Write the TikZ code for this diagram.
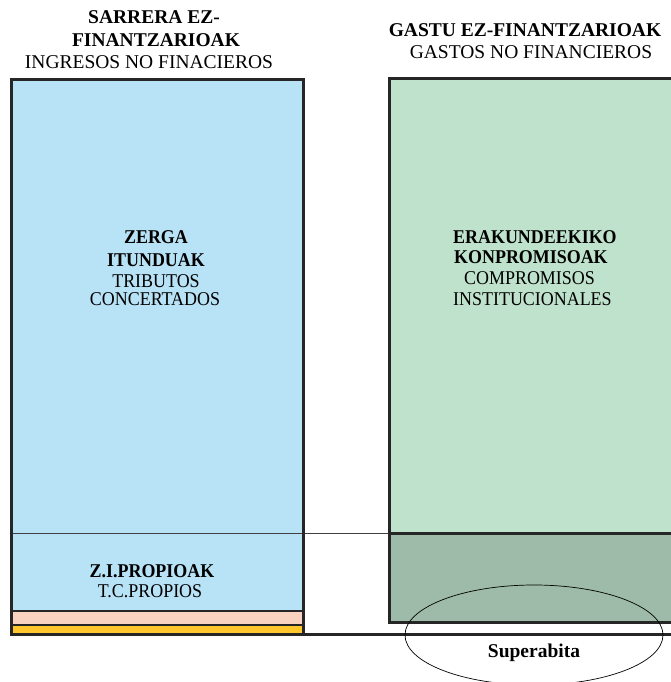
\documentclass[tikz,border=0pt]{standalone}
\usepackage{fontspec}
\setmainfont{Liberation Serif}
\newfontfamily\boxfont[FakeStretch=0.92]{Liberation Serif}
\usetikzlibrary{positioning}
\definecolor{inblue}{HTML}{B8E2F6}
\definecolor{gslight}{HTML}{BFE2CC}
\definecolor{gsdark}{HTML}{9DBBA8}
\definecolor{inpink}{HTML}{FAD3C0}
\definecolor{inyellow}{HTML}{FFC72C}
\tikzset{
  frame/.style={draw=black!85, line width=3pt},
  bd/.style={anchor=base, inner sep=0pt, font=\fontsize{19.5}{22}\selectfont\bfseries},
  rg/.style={anchor=base, inner sep=0pt, font=\fontsize{19.5}{22}\selectfont},
  bdin/.style={anchor=base, inner sep=0pt, font=\boxfont\fontsize{19.5}{22}\selectfont\bfseries},
  rgin/.style={anchor=base, inner sep=0pt, font=\boxfont\fontsize{19.5}{22}\selectfont},
}
\begin{document}
\begin{tikzpicture}[x=1pt, y=-1pt]
    \useasboundingbox (0,0) rectangle (670,682);
    % ingresos
    \fill[inblue] (11,80) rectangle (303,611);
    \fill[inpink] (11,611) rectangle (303,625);
    \fill[inyellow] (11,625) rectangle (303,634);
    \draw[black!75, line width=0.8pt] (11,533) -- (389,533);
    \draw[frame, line width=2.4pt] (11,611) -- (303,611) (11,625) -- (303,625);
    \draw[frame] (11,80) rectangle (303,634);
    % gastos
    \fill[gslight] (389,79) rectangle (675,533);
    \fill[gsdark] (389,533) rectangle (675,622);
    \draw[frame] (389,533) -- (675,533);
    \draw[frame] (675,79) -- (389,79) -- (389,622) -- (675,622);
    \draw[frame] (11,634) -- (675,634);
    % superavit
    \draw[line width=0.7pt] (534,635) ellipse [x radius=129, y radius=50];
    % titulos
    \node[bd] (inT1) at (154,24) {SARRERA EZ-};
    \node[bd] (inT2) at (156,47) {FINANTZARIOAK};
    \node[rg] (inT3) at (149,69) {INGRESOS NO FINACIEROS};
    \node[bd] (gsT1) at (525,37) {GASTU EZ-FINANTZARIOAK};
    \node[rg] (gsT2) at (531,59) {GASTOS NO FINANCIEROS};
    % textos
    \node[bdin] (tc1) at (156,243) {ZERGA};
    \node[bdin] (tc2) at (156,266) {ITUNDUAK};
    \node[rgin] (tc3) at (156,287) {TRIBUTOS};
    \node[rgin] (tc4) at (155,305) {CONCERTADOS};
    \node[bdin] (tp1) at (152,577) {Z.I.PROPIOAK};
    \node[rgin] (tp2) at (150,597) {T.C.PROPIOS};
    \node[bdin, anchor=base west] (ci1) at (453,243) {ERAKUNDEEKIKO};
    \node[bdin, anchor=base west] (ci2) at (454,263) {KONPROMISOAK};
    \node[rgin, anchor=base west] (ci3) at (464,284) {COMPROMISOS};
    \node[rgin, anchor=base west] (ci4) at (453,305) {INSTITUCIONALES};
    \node[bd] (sup) at (534,657) {Superabita};
\end{tikzpicture}
\end{document}
